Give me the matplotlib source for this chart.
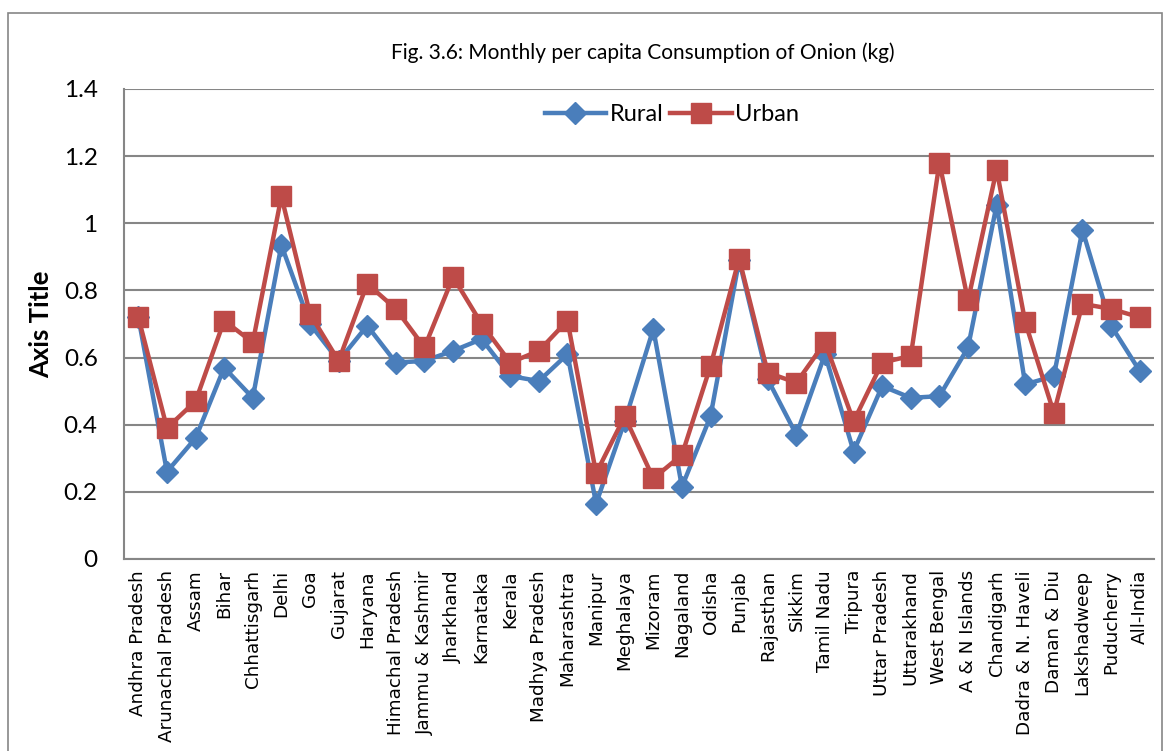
import numpy as np
import matplotlib
matplotlib.use("Agg")
import matplotlib.pyplot as plt
from matplotlib.patches import Rectangle

# categories (states) and monthly per capita onion consumption (kg)
states = ["Andhra Pradesh", "Arunachal Pradesh", "Assam", "Bihar", "Chhattisgarh",
          "Delhi", "Goa", "Gujarat", "Haryana", "Himachal Pradesh", "Jammu & Kashmir",
          "Jharkhand", "Karnataka", "Kerala", "Madhya Pradesh", "Maharashtra",
          "Manipur", "Meghalaya", "Mizoram", "Nagaland", "Odisha", "Punjab",
          "Rajasthan", "Sikkim", "Tamil Nadu", "Tripura", "Uttar Pradesh",
          "Uttarakhand", "West Bengal", "A & N Islands", "Chandigarh",
          "Dadra & N. Haveli", "Daman & Diu", "Lakshadweep", "Puducherry", "All-India"]

rural = [0.72, 0.26, 0.36, 0.57, 0.48, 0.935, 0.70, 0.59, 0.695, 0.585, 0.59,
         0.62, 0.655, 0.545, 0.53, 0.61, 0.165, 0.41, 0.685, 0.215, 0.425, 0.89,
         0.535, 0.37, 0.61, 0.32, 0.515, 0.48, 0.485, 0.63, 1.055, 0.52, 0.545,
         0.98, 0.695, 0.56]

urban = [0.72, 0.39, 0.47, 0.71, 0.645, 1.08, 0.73, 0.59, 0.82, 0.745, 0.63,
         0.84, 0.70, 0.585, 0.62, 0.71, 0.255, 0.425, 0.24, 0.31, 0.575, 0.895,
         0.555, 0.525, 0.645, 0.41, 0.585, 0.605, 1.18, 0.77, 1.16, 0.705, 0.435,
         0.76, 0.745, 0.72]

title = "Fig. 3.6: Monthly per capita Consumption of Onion (kg)"
yticks = [0, 0.2, 0.4, 0.6, 0.8, 1, 1.2, 1.4]
ytick_labels = ["0", "0.2", "0.4", "0.6", "0.8", "1", "1.2", "1.4"]

blue = "#4A7EBB"
red = "#BE4B48"
grid_col = "#868686"

fig = plt.figure(figsize=(11.68, 7.51), dpi=100)
ax = fig.add_axes([0.1062, 0.2557, 0.8818, 0.6258])

# outer chart border
fig.patches.append(Rectangle((0.0068, -0.05), 0.988, 1.0327, transform=fig.transFigure,
                             fill=False, edgecolor="#868686", lw=1.2))

x = np.arange(len(states))
ax.plot(x, rural, color=blue, lw=3.2, marker="D", ms=11, label="Rural")
ax.plot(x, urban, color=red, lw=3.2, marker="s", ms=14, label="Urban")

ax.set_xlim(-0.5, len(states) - 0.5)
ax.set_ylim(0, 1.4)
ax.set_yticks(yticks)
ax.set_yticklabels(ytick_labels)
ax.set_xticks(x)
ax.set_xticklabels(states, rotation=90)
for lab in ax.get_yticklabels():
    lab.set_fontfamily("Lato")
    lab.set_fontsize(17.5)
for lab in ax.get_xticklabels():
    lab.set_fontfamily("DejaVu Sans")
    lab.set_fontsize(13.2)
ax.tick_params(length=0)
ax.tick_params(axis="x", pad=8)
ax.tick_params(axis="y", pad=19)

ax.grid(axis="y", color=grid_col, lw=1.5)
ax.set_axisbelow(True)
for s in ["top", "right"]:
    ax.spines[s].set_visible(False)
for s in ["left", "bottom"]:
    ax.spines[s].set_color(grid_col)
    ax.spines[s].set_linewidth(1.5)

ax.set_ylabel("Axis Title", fontfamily="Lato", fontweight="bold", fontsize=18.5)
ax.yaxis.set_label_coords(-0.069, 0.5)

fig.text(0.55, 0.930, title, ha="center", va="center", fontfamily="Lato", fontsize=15)

leg = ax.legend(loc="upper center", bbox_to_anchor=(0.532, 1.013), ncol=2, frameon=False,
                prop={"family": "Lato", "size": 17}, handlelength=2.6, columnspacing=0.3,
                handletextpad=0.15)

fig.savefig("out.png", dpi=100)
